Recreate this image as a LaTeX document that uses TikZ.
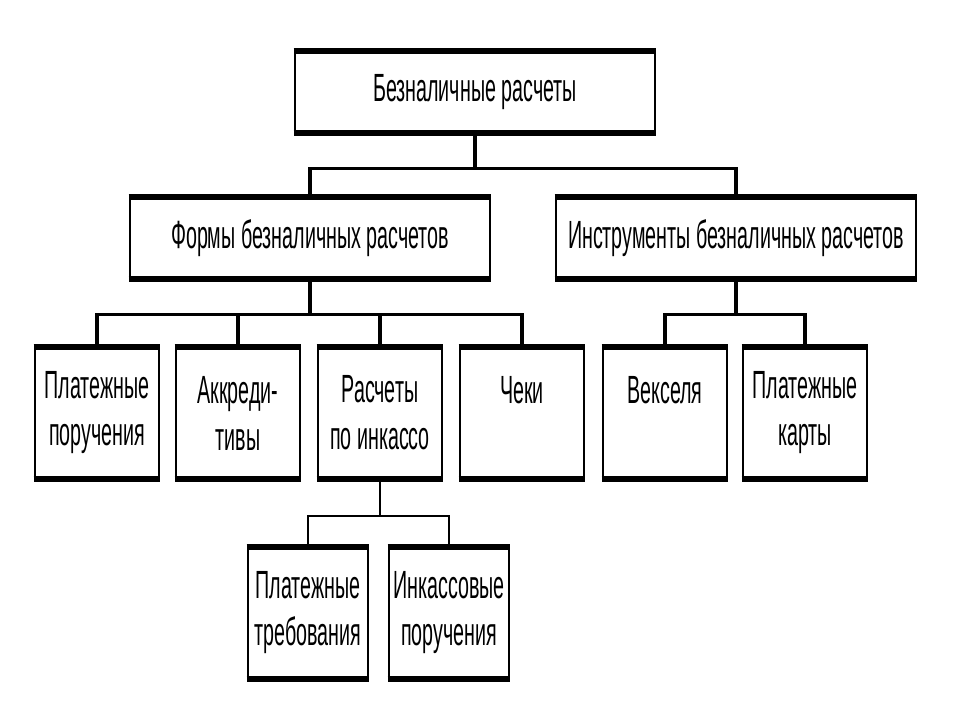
\documentclass[tikz,border=0pt]{standalone}
\usepackage{fontspec}
\setmainfont{Liberation Sans}
\newfontfamily\narrowfont[FakeStretch=0.5]{Liberation Sans}
\usetikzlibrary{calc}

\begin{document}
\begin{tikzpicture}[x=0.025cm, y=-0.025cm,
    box/.style={draw, line width=2pt, inner sep=0pt, align=center,
        font=\narrowfont\fontsize{28}{33.4}\selectfont},
    wide/.style={box, minimum width=9cm, minimum height=2cm},
    small/.style={box, minimum width=3.1cm, minimum height=3.25cm},
    conn/.style={line width=2.4pt},
    thinconn/.style={line width=1.5pt},
    bar/.style={line width=4.2pt}]
    \fill[white] (0,0) rectangle (960,720);
    \useasboundingbox (0,0) rectangle (960,720);

    \node[wide] (top) at (475, 92) {Безналичные расчеты};
    \node[wide] (forms) at (310, 238) {Формы безналичных расчетов};
    \node[wide] (instr) at (736, 238) {Инструменты безналичных расчетов};

    \node[small] (pp) at (97, 413) {Платежные\\поручения};
    \node[small] (akk) at (238, 413) {Аккреди-\\тивы};
    \node[small] (ink) at (380, 413) {Расчеты\\по инкассо};
    \node[small] (cheki) at (522, 413) {Чеки\\~};
    \node[small] (veks) at (665, 413) {Векселя\\~};
    \node[small] (karty) at (805, 413) {Платежные\\карты};

    \node[small, minimum width=3cm] (treb) at (308, 613) {Платежные\\требования};
    \node[small, minimum width=3cm] (inkp) at (449, 613) {Инкассовые\\поручения};

    % thick top and bottom edges
    \foreach \n in {top, forms, instr, pp, akk, ink, cheki, veks, karty, treb, inkp}
        \draw[bar] (\n.north west) -- (\n.north east)
                   (\n.south west) -- (\n.south east);

    \draw[conn] (top.south) -- ++(0, 35) coordinate (b1);
    \draw[conn] (forms.north) |- (b1) -| (instr.north);

    \draw[conn] (forms.south) -- ++(0, 35) coordinate (b2);
    \draw[conn] (pp.north) |- (b2) -| (cheki.north);
    \draw[conn] (akk.north) -- (akk.north |- b2);
    \draw[conn] (ink.north) -- (ink.north |- b2);

    \draw[conn] (instr.south) -- ++(0, 35) coordinate (b3);
    \draw[conn] (veks.north) |- (b3) -| (karty.north);

    \draw[thinconn] (ink.south) -- ++(0, 37) coordinate (b4);
    \draw[thinconn] (treb.north) |- (b4) -| (inkp.north);
\end{tikzpicture}
\end{document}
